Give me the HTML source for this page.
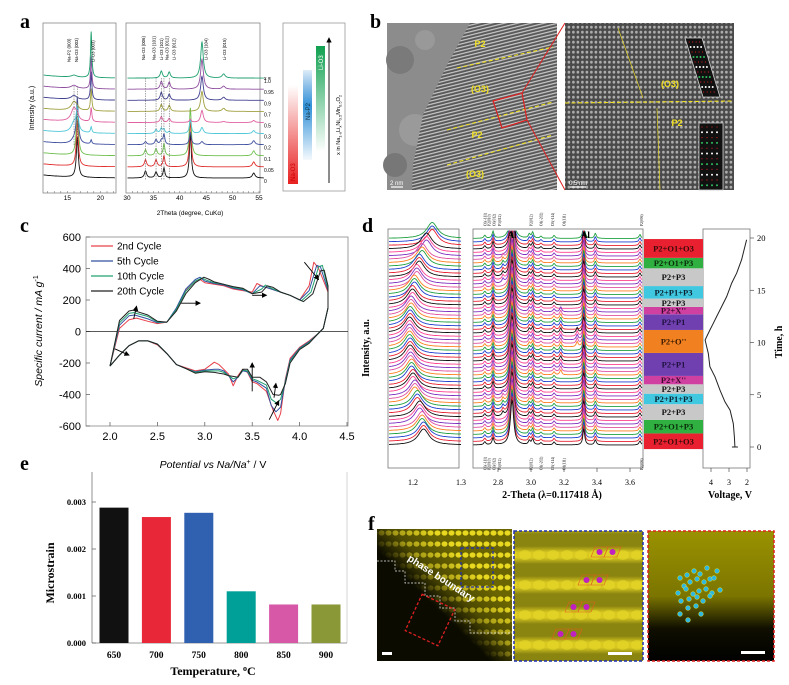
<!DOCTYPE html>
<html><head><meta charset="utf-8"><style>
html,body{margin:0;padding:0;background:#fff}
svg{display:block}
.sans{font-family:"Liberation Sans",sans-serif}
.serif{font-family:"Liberation Serif",serif}
</style></head><body>
<svg id="fig" width="789" height="685" viewBox="0 0 789 685" xmlns="http://www.w3.org/2000/svg">
<defs>
<pattern id="stripes" width="6" height="3.2" patternUnits="userSpaceOnUse" patternTransform="rotate(-14)">
<rect width="6" height="3.2" fill="#5a5a5a"/><rect y="0" width="6" height="1.2" fill="#c8c8c8"/>
</pattern>
<pattern id="grid" width="4.5" height="5" patternUnits="userSpaceOnUse">
<rect width="4.5" height="5" fill="#555"/><rect x="0.6" y="0.8" width="2.6" height="2.8" rx="1" fill="#c4c4c4"/>
</pattern>
<pattern id="ydots" width="7" height="11" patternUnits="userSpaceOnUse">
<rect width="7" height="11" fill="#6a6500"/><ellipse cx="3.5" cy="5" rx="3" ry="2.6" fill="#e8d820"/>
</pattern>
<linearGradient id="stripeGrad" x1="0" y1="0" x2="0" y2="1">
<stop offset="0" stop-color="#8a8410"/><stop offset="0.35" stop-color="#d8c820"/><stop offset="0.65" stop-color="#d8c820"/><stop offset="1" stop-color="#8a8410"/>
</linearGradient>
<pattern id="ystripe" width="14" height="30" patternUnits="userSpaceOnUse">
<rect width="14" height="30" fill="#8a8410"/><rect y="6" width="14" height="18" fill="url(#stripeGrad)"/><ellipse cx="7" cy="15" rx="6" ry="5" fill="#e8d828" opacity="0.6"/>
</pattern>
<linearGradient id="darkcorner" x1="0" y1="1" x2="1" y2="0">
<stop offset="0" stop-color="#0b0b00" stop-opacity="1"/><stop offset="0.42" stop-color="#0b0b00" stop-opacity="1"/><stop offset="0.55" stop-color="#0b0b00" stop-opacity="0.3"/><stop offset="0.7" stop-color="#0b0b00" stop-opacity="0"/>
</linearGradient>
<linearGradient id="darkbottom" x1="0" y1="0" x2="0" y2="1">
<stop offset="0" stop-color="#000" stop-opacity="0"/><stop offset="0.5" stop-color="#000" stop-opacity="0.2"/><stop offset="0.75" stop-color="#000" stop-opacity="0.9"/><stop offset="1" stop-color="#000" stop-opacity="1"/>
</linearGradient>
<linearGradient id="gRed" x1="0" y1="1" x2="0" y2="0"><stop offset="0" stop-color="#e82020"/><stop offset="1" stop-color="#e82020" stop-opacity="0"/></linearGradient>
<linearGradient id="gBlue" x1="0" y1="0" x2="0" y2="1"><stop offset="0" stop-color="#2080d0" stop-opacity="0.15"/><stop offset="0.4" stop-color="#3090d8"/><stop offset="1" stop-color="#3090d8" stop-opacity="0.05"/></linearGradient>
<linearGradient id="gGreen" x1="0" y1="0" x2="0" y2="1"><stop offset="0" stop-color="#10a050"/><stop offset="1" stop-color="#10a050" stop-opacity="0"/></linearGradient>
<marker id="arr" markerWidth="6" markerHeight="6" refX="5" refY="3" orient="auto"><path d="M0,0 L6,3 L0,6 z" fill="#000"/></marker>
</defs>

<!-- PANEL A -->
<g id="panelA">
<text x="20" y="28" class="serif" font-size="20" font-weight="bold">a</text>
<rect x="43" y="23" width="73" height="170" fill="none" stroke="#888" stroke-width="0.8"/>
<rect x="126" y="23" width="134" height="170" fill="none" stroke="#888" stroke-width="0.8"/>
<text transform="translate(34,108) rotate(-90)" text-anchor="middle" class="sans" font-size="7">Intensity (a.u.)</text>
<text x="190" y="215" text-anchor="middle" class="sans" font-size="6.5">2Theta (degree, CuKα)</text>
<g id="aTicks"></g>
<g id="aTraces"></g>
<g id="aLabels" class="sans" font-size="4.3"></g>
<rect x="283" y="23" width="62" height="168" fill="none" stroke="#999" stroke-width="0.8"/>
<rect x="288" y="85" width="10" height="99" fill="url(#gRed)"/>
<rect x="303" y="70" width="9" height="90" fill="url(#gBlue)"/>
<rect x="316" y="46" width="9" height="106" fill="url(#gGreen)"/>
<text transform="translate(295,181) rotate(-90)" class="sans" font-size="6" fill="#c00">Na-O3</text>
<text transform="translate(310,120) rotate(-90)" class="sans" font-size="6" fill="#134">Na-P2</text>
<text transform="translate(323,70) rotate(-90)" class="sans" font-size="6" fill="#fff">Li-O3</text>
<line x1="329" y1="183" x2="329" y2="38" stroke="#000" stroke-width="0.9" marker-end="url(#arr)"/>
<text transform="translate(340,155) rotate(-90)" class="sans" font-size="5.6">x in Na<tspan font-size="4" dy="1.5">1-x</tspan><tspan dy="-1.5">Li</tspan><tspan font-size="4" dy="1.5">x</tspan><tspan dy="-1.5">Ni</tspan><tspan font-size="4" dy="1.5">0.5</tspan><tspan dy="-1.5">Mn</tspan><tspan font-size="4" dy="1.5">0.5</tspan><tspan dy="-1.5">O</tspan><tspan font-size="4" dy="1.5">2</tspan></text>
</g>

<!-- PANEL B -->
<g id="panelB">
<text x="370" y="28" class="serif" font-size="20" font-weight="bold">b</text>
<rect x="387" y="23" width="170" height="167" fill="#8c8c8c"/>
<circle cx="400" cy="60" r="14" fill="#7a7a7a"/><circle cx="415" cy="130" r="16" fill="#9a9a9a"/><circle cx="395" cy="165" r="12" fill="#777"/><circle cx="425" cy="40" r="10" fill="#999"/>
<polygon points="470,23 557,23 557,190 412,190 413,165 423,115 447,65" fill="url(#stripes)"/>
<g stroke="#f0e020" stroke-width="1.1" stroke-dasharray="4,2.5" fill="none">
<line x1="457" y1="68" x2="553" y2="47"/>
<line x1="447" y1="130" x2="553" y2="102"/>
<line x1="447" y1="165" x2="553" y2="135"/>
</g>
<g class="sans" font-size="9" font-weight="bold" fill="#f0e020" text-anchor="middle">
<text x="480" y="47">P2</text>
<text x="480" y="92">(O3)</text>
<text x="477" y="138">P2</text>
<text x="475" y="177">(O3)</text>
</g>
<polygon points="493,101 522,93 527,120 502,128" fill="none" stroke="#e02020" stroke-width="1.2"/>
<line x1="522" y1="93" x2="565" y2="23" stroke="#e02020" stroke-width="1"/>
<line x1="527" y1="120" x2="565" y2="190" stroke="#e02020" stroke-width="1"/>
<line x1="391" y1="187" x2="403" y2="187" stroke="#fff" stroke-width="1.2"/>
<text x="390" y="185" class="sans" font-size="6" fill="#fff">2 nm</text>
<rect x="565" y="23" width="169" height="167" fill="url(#grid)"/>
<rect x="565" y="23" width="169" height="167" fill="#000" opacity="0.12"/>
<line x1="565" y1="103" x2="734" y2="101" stroke="#f0e020" stroke-width="1.1" stroke-dasharray="4,2.5"/>
<line x1="618" y1="28" x2="643" y2="98" stroke="#e0d020" stroke-width="0.7"/>
<line x1="657" y1="108" x2="660" y2="190" stroke="#e0d020" stroke-width="0.7"/>
<text x="670" y="87" class="sans" font-size="9" font-weight="bold" fill="#f0e020" text-anchor="middle">(O3)</text>
<text x="677" y="126" class="sans" font-size="9" font-weight="bold" fill="#f0e020" text-anchor="middle">P2</text>
<polygon points="685,38 702,38 720,97 703,97" fill="#111" stroke="#ccc" stroke-width="0.8"/>
<rect x="699" y="123" width="24" height="67" fill="#111" stroke="#ccc" stroke-width="0.8"/>
<g id="bInsets"></g>
<line x1="570" y1="187" x2="586" y2="187" stroke="#fff" stroke-width="1.2"/>
<text x="569" y="185" class="sans" font-size="6" fill="#fff">0.5 nm</text>
</g>

<!-- PANEL C -->
<g id="panelC">
<text x="20" y="232" class="serif" font-size="20" font-weight="bold">c</text>
<rect x="86" y="237" width="262" height="189" fill="none" stroke="#888" stroke-width="0.8"/>
<g id="cAxes" class="sans" font-size="11"></g>
<g id="cLines"></g>
<text transform="translate(42,331) rotate(-90)" text-anchor="middle" class="sans" font-size="10.5" font-style="italic">Specific current / mA g<tspan font-size="7" dy="-4" font-style="normal">-1</tspan></text>
<text x="213" y="468" text-anchor="middle" class="sans" font-size="10.5" font-style="italic">Potential vs Na/Na<tspan font-size="7" dy="-4" font-style="normal">+</tspan><tspan dy="4" font-style="normal"> / V</tspan></text>
<g id="cLegend" class="sans" font-size="10"></g>
</g>

<!-- PANEL D -->
<g id="panelD">
<text x="362" y="232" class="serif" font-size="20" font-weight="bold">d</text>
<rect x="388" y="229" width="71" height="239" fill="none" stroke="#777" stroke-width="0.8"/>
<rect x="473" y="229" width="170" height="239" fill="none" stroke="#777" stroke-width="0.8"/>
<rect x="703" y="229" width="47" height="239" fill="none" stroke="#777" stroke-width="0.8"/>
<g id="dTraces"></g>
<g id="dAxes" class="serif" font-size="8"></g>
<g id="dPhases" class="serif" font-size="8.5" font-weight="bold"></g>
<g id="dVolt"></g>
<text transform="translate(369,348) rotate(-90)" text-anchor="middle" class="serif" font-size="10" font-weight="bold">Intensity, a.u.</text>
<text x="552" y="498" text-anchor="middle" class="serif" font-size="10" font-weight="bold">2-Theta (λ=0.117418 Å)</text>
<text x="730" y="498" text-anchor="middle" class="serif" font-size="10" font-weight="bold">Voltage, V</text>
<text transform="translate(782,342) rotate(-90)" text-anchor="middle" class="serif" font-size="10" font-weight="bold">Time, h</text>
</g>

<!-- PANEL E -->
<g id="panelE">
<text x="20" y="470" class="serif" font-size="20" font-weight="bold">e</text>
<line x1="92" y1="472" x2="92" y2="643" stroke="#777" stroke-width="0.8"/>
<line x1="347" y1="472" x2="347" y2="643" stroke="#ccc" stroke-width="0.8"/>
<line x1="92" y1="643" x2="347" y2="643" stroke="#777" stroke-width="0.8"/>
<g id="eBars"></g>
<g id="eAxes" class="serif" font-size="8.5" font-weight="bold"></g>
<text transform="translate(54,573) rotate(-90)" text-anchor="middle" class="serif" font-size="12" font-weight="bold">Microstrain</text>
<text x="213" y="675" text-anchor="middle" class="serif" font-size="12" font-weight="bold">Temperature, <tspan font-size="8" dy="-4">o</tspan><tspan dy="4">C</tspan></text>
</g>

<!-- PANEL F -->
<g id="panelF">
<text x="368" y="530" class="serif" font-size="20" font-weight="bold">f</text>
<rect x="377" y="529" width="135" height="132" fill="url(#ydots)"/>
<rect x="377" y="529" width="135" height="132" fill="url(#darkcorner)"/>
<polyline points="377,561 395,561 395,571 405,571 405,583 425,583 425,596 440,596 440,608 455,608 455,621 470,621 470,633 512,633" fill="none" stroke="#eee" stroke-width="0.7" stroke-dasharray="2,1.5"/>
<text transform="translate(407,560) rotate(33)" class="sans" font-size="10" font-weight="bold" fill="#fff">phase boundary</text>
<rect x="461" y="548" width="32" height="39" fill="none" stroke="#2030b0" stroke-width="1.3" stroke-dasharray="3,2"/>
<rect x="412" y="600" width="36" height="40" transform="rotate(25 430 620)" fill="none" stroke="#e02020" stroke-width="1.3" stroke-dasharray="3,2"/>
<rect x="382" y="652" width="10" height="3" fill="#fff"/>
<rect x="514" y="531" width="129" height="130" fill="url(#ystripe)"/>
<rect x="514" y="531" width="129" height="130" fill="none" stroke="#2030b0" stroke-width="1.5" stroke-dasharray="3,2"/>
<g id="fMid"></g>
<rect x="608" y="652" width="24" height="3" fill="#fff"/>
<rect x="648" y="531" width="126" height="130" fill="#9a9200"/>
<rect x="648" y="531" width="126" height="130" fill="url(#darkbottom)"/>
<rect x="648" y="531" width="126" height="130" fill="none" stroke="#e02020" stroke-width="1.5" stroke-dasharray="3,2"/>
<g id="fRight"></g>
<rect x="741" y="651" width="24" height="3" fill="#fff"/>
</g>
</svg>

<script>
// ===================== DATA =====================
var xrdComps = ["0","0.05","0.1","0.2","0.3","0.5","0.7","0.9","0.95","1.0"];
var xrdColors = ["#111","#e03030","#70c050","#4050a0","#50c8d8","#e060a0","#a0a040","#404090","#9050a0","#20a070"];
var leftPeakPos = [16.0, 16.5, 18.6];
var leftPeakW = [0.5, 0.18, 0.12];
var leftPeakH = [
 [0,40,0],[0,46,0],[0,52,0],[4,44,4],[10,22,6],[14,4,14],[9,2,22],[4,0,28],[3,0,32],[2,0,46]
];
var rightPeakPos = [33.5,35.5,36.5,37.0,38.0,42.0,44.2,48.3,54.0];
var rightPeakW = [0.25,0.25,0.25,0.2,0.25,0.22,0.3,0.35,0.3];
var rightPeakH = [
 [7,6,0,10,0,44,0,0,5],[7,7,0,11,0,46,0,0,5],[6,7,0,12,0,48,0,0,5],[3,5,4,10,0,12,3,0,4],
 [0,4,5,4,2,14,6,0,3],[0,0,6,0,4,3,12,1,2],[0,0,7,0,6,0,20,3,0],[0,0,8,0,6,0,24,3,0],
 [0,0,8,0,7,0,30,3,0],[0,0,7,0,6,0,36,4,0]
];
var aTickL = [15,20];
var aTickR = [30,35,40,45,50,55];

var cvNames = ["2nd Cycle","5th Cycle","10th Cycle","20th Cycle"];
var cvColors = ["#e8404a","#3050a0","#20a070","#222"];
var cv2V = [2.0,2.1,2.2,2.28,2.4,2.5,2.6,2.7,2.8,2.9,2.95,3.0,3.1,3.2,3.3,3.4,3.5,3.55,3.6,3.7,3.8,3.9,4.0,4.1,4.15,4.2,4.3,4.3,4.25,4.2,4.1,4.0,3.9,3.85,3.8,3.77,3.72,3.65,3.55,3.5,3.45,3.4,3.35,3.3,3.25,3.2,3.15,3.1,3.0,2.9,2.8,2.7,2.6,2.5,2.4,2.3,2.2,2.1,2.0];
var cv2I = [-220,20,75,85,65,50,60,140,260,320,330,310,300,290,270,260,250,305,290,270,250,230,200,290,440,400,250,150,20,-10,-60,-100,-170,-300,-520,-565,-500,-380,-330,-320,-260,-240,-280,-345,-270,-240,-210,-195,-240,-250,-230,-210,-140,-85,-60,-60,-90,-150,-220];
var cv5V = [2.0,2.1,2.2,2.26,2.4,2.5,2.6,2.7,2.8,2.9,2.95,3.0,3.1,3.2,3.3,3.4,3.5,3.58,3.62,3.7,3.8,3.9,4.0,4.1,4.18,4.22,4.3,4.3,4.25,4.2,4.1,4.0,3.9,3.85,3.8,3.75,3.7,3.65,3.55,3.5,3.45,3.4,3.35,3.3,3.25,3.2,3.15,3.1,3.0,2.9,2.8,2.7,2.6,2.5,2.4,2.3,2.2,2.1,2.0];
var cv5I = [-220,40,100,105,80,55,60,150,270,330,345,320,305,295,275,265,240,290,285,270,250,230,200,260,420,410,260,150,20,-10,-65,-105,-180,-310,-480,-510,-470,-360,-320,-310,-255,-250,-290,-320,-280,-250,-240,-240,-245,-255,-235,-210,-140,-80,-60,-60,-90,-150,-220];
var cv10V = [2.0,2.1,2.2,2.25,2.4,2.5,2.6,2.7,2.8,2.9,2.97,3.02,3.1,3.2,3.3,3.4,3.5,3.6,3.64,3.7,3.8,3.9,4.02,4.12,4.2,4.24,4.3,4.3,4.25,4.2,4.1,4.0,3.9,3.85,3.8,3.76,3.7,3.65,3.55,3.5,3.45,3.4,3.35,3.3,3.25,3.2,3.15,3.1,3.0,2.9,2.8,2.7,2.6,2.5,2.4,2.3,2.2,2.1,2.0];
var cv10I = [-220,55,115,120,95,60,60,140,255,320,340,325,310,300,280,270,240,270,295,275,250,230,195,250,410,420,270,150,20,-10,-70,-110,-190,-320,-430,-455,-430,-340,-310,-300,-250,-245,-290,-300,-280,-260,-250,-250,-250,-260,-235,-210,-140,-80,-60,-60,-90,-150,-220];
var cv20V = [2.0,2.1,2.2,2.24,2.4,2.5,2.6,2.7,2.8,2.9,2.99,3.05,3.1,3.2,3.3,3.4,3.5,3.6,3.66,3.72,3.8,3.9,4.04,4.14,4.22,4.26,4.3,4.3,4.25,4.2,4.1,4.0,3.9,3.85,3.8,3.78,3.72,3.65,3.58,3.5,3.45,3.4,3.35,3.3,3.25,3.2,3.15,3.1,3.0,2.9,2.8,2.7,2.6,2.5,2.4,2.3,2.2,2.1,2.0];
var cv20I = [-220,70,130,135,105,65,60,130,240,310,345,330,315,300,285,275,240,250,290,280,250,230,190,240,385,390,290,150,20,-10,-75,-115,-200,-330,-400,-405,-400,-320,-290,-290,-240,-240,-290,-285,-280,-270,-265,-260,-255,-265,-235,-210,-140,-80,-60,-60,-90,-150,-220];
var cTickX = [2.0,2.5,3.0,3.5,4.0,4.5];
var cTickY = [600,400,200,0,-200,-400,-600];

var phaseLabels = ["P2+O1+O3","P2+O1+P3","P2+P3","P2+P1+P3","P2+P3","P2+X''","P2+P1","P2+O''","P2+P1","P2+X''","P2+P3","P2+P1+P3","P2+P3","P2+O1+P3","P2+O1+O3"];
var phaseStart = [-0.2,1.3,2.6,4.1,5.1,6.0,6.8,9.0,11.2,12.7,13.4,14.2,15.4,17.1,18.1];
var phaseEnd = [1.3,2.6,4.1,5.1,6.0,6.8,9.0,11.2,12.7,13.4,14.2,15.4,17.1,18.1,19.9];
var phaseColors = ["#e82030","#30b040","#c8c8c8","#40c8e0","#c8c8c8","#d040a0","#7040b0","#f08020","#7040b0","#d040a0","#c8c8c8","#40c8e0","#c8c8c8","#30b040","#e82030"];
var phaseText = ["#3a0a0a","#0a2a0a","#111","#0a2030","#111","#3a0a2a","#201040","#3a1a00","#201040","#3a0a2a","#111","#0a2030","#111","#0a2a0a","#3a0a0a"];
var voltTime = [0,0.96,2.24,3.52,4.32,5.44,6.72,7.68,8.96,9.6,10.24,10.56,11.2,11.84,12.48,13.12,14.4,15.68,16.64,17.92,19.84];
var voltVal = [2.67,2.7,2.76,2.94,3.22,3.5,3.78,4.06,4.15,4.24,4.33,4.24,4.06,3.87,3.69,3.5,3.13,2.85,2.57,2.3,2.02];
var dLowPeak = [1.222,1.219,1.214,1.209,1.204,1.200,1.197,1.195,1.194,1.193,1.193,1.194,1.196,1.199,1.203,1.208,1.213,1.219,1.228,1.240];
var dPeakPos = [2.72,2.77,2.83,2.885,2.99,3.01,3.06,3.14,3.18,3.28,3.32,3.39,3.66];
var dPeakH = [3,7,4,45,4,6,2,3,5,5,16,5,4];
var dTraceColors = ["#111","#e82030","#2040d0","#20a040","#ff8020","#e050a0","#8030c0","#ff4090"];
var dTickL = [1.2,1.3];
var dTickM = [2.8,3.0,3.2,3.4,3.6];
var dTickT = [0,5,10,15,20];
var dTickV = [4,3,2];

var eTemps = ["650","700","750","800","850","900"];
var eStrain = [0.00288,0.00268,0.00277,0.0011,0.00082,0.00082];
var eColors = ["#111","#e82838","#3060b0","#00a098","#d858a8","#8a9838"];
var eTicks = [0,0.001,0.002,0.003];

// ===================== HELPERS =====================
var NS = "http://www.w3.org/2000/svg";
function mk(tag, attrs, parent){var e=document.createElementNS(NS,tag);for(var k in attrs)e.setAttribute(k,attrs[k]);parent.appendChild(e);return e;}
function byId(id){return document.getElementById(id);}
function lor(d,p,w,h){var u=(d-p)/w;return h/(1+u*u);}

// ===================== PANEL A =====================
var xL = function(d){return 43+(d-11.3)*6.6;};
var xR = function(d){return 127+(d-30)*5.28;};
var baseA = function(k){return 178-k*11.1;};
(function(){
 var g=byId("aTraces");
 for(var k=0;k<xrdComps.length;k++){
  var pts=[];
  for(var d=11.4; d<=22.2; d+=0.04){
   var y=baseA(k)-3*Math.exp(-(d-11.4)/4);
   for(var j=0;j<leftPeakPos.length;j++) y-=lor(d,leftPeakPos[j],leftPeakW[j],leftPeakH[k][j]);
   pts.push(xL(d).toFixed(1)+","+y.toFixed(1));
  }
  var p=mk("polyline",{points:pts.join(" "),fill:"none",stroke:xrdColors[k],"stroke-width":0.9},g);
  
  
  pts=[];
  for(var d2=30.1; d2<=55.9; d2+=0.05){
   var y2=baseA(k);
   for(var j2=0;j2<rightPeakPos.length;j2++) y2-=lor(d2,rightPeakPos[j2],rightPeakW[j2],rightPeakH[k][j2]);
   pts.push(xR(d2).toFixed(1)+","+y2.toFixed(1));
  }
  var p2=mk("polyline",{points:pts.join(" "),fill:"none",stroke:xrdColors[k],"stroke-width":0.9},g);
  
  
  var t=mk("text",{x:264,y:baseA(k)+5,"font-size":5,"font-family":"Liberation Sans, sans-serif"},byId("aLabels"));
  t.textContent=xrdComps[k];
  
  
 }
 var tx=mk("text",{x:264,y:80,"font-size":5,"font-family":"Liberation Sans, sans-serif"},byId("aLabels"));
 tx.textContent="x =";
 
 
 var tg=byId("aTicks");
 aTickL.forEach(function(v){
  var t=mk("text",{x:xL(v),y:200,"text-anchor":"middle","font-size":6.5,"font-family":"Liberation Sans, sans-serif"},tg);t.textContent=v;
  
  
 });
 aTickR.forEach(function(v){
  var t=mk("text",{x:xR(v),y:200,"text-anchor":"middle","font-size":6.5,"font-family":"Liberation Sans, sans-serif"},tg);t.textContent=v;
  
  
 });
 for(var d=12; d<=22; d++){mk("line",{x1:xL(d),y1:193,x2:xL(d),y2:191,stroke:"#666","stroke-width":0.5},tg);}
 for(var d3=31; d3<=55; d3++){mk("line",{x1:xR(d3),y1:193,x2:xR(d3),y2:191,stroke:"#666","stroke-width":0.5},tg);}
 var lbls=[[xL(16.0)-5,"Na-P2 (003)",16.0,true],[xL(16.5)-1,"Na-O3 (003)",16.5,true],[xL(18.6)+2,"Li-O3 (003)",18.6,false],
  [xR(33.5)-2,"Na-O3 (006)",33.5,true],[xR(35.5)-2,"Na-O3 (101)",35.5,true],[xR(36.5),"Li-O3 (101)",36.5,true],[xR(37.0)+3,"Na-O3 (012)",37.0,true],[xR(38.0)+5,"Li-O3 (012)",38.0,true],[xR(44.2)+4,"Li-O3 (104)",44.2,false],[xR(48.3)+1,"Li-O3 (015)",48.3,false]];
 lbls.forEach(function(l,i){
  var yb = (i<3)?62:60;
  var t=mk("text",{transform:"translate("+(l[0]+1.5)+","+yb+") rotate(-90)","font-size":4.3,"font-family":"Liberation Sans, sans-serif"},byId("aLabels"));
  t.textContent=l[1];
  
  
  if(l[3]){
   var xx=(i<3)?xL(l[2]):xR(l[2]);
   mk("line",{x1:xx,y1:(i<3)?86:78,x2:xx,y2:(i<3)?145:180,stroke:"#555","stroke-width":0.5,"stroke-dasharray":"1.5,1"},byId("aLabels"));
  }
 });
})();

// ===================== PANEL B insets =====================
(function(){
 var g=byId("bInsets");
 var rowsC=["#c02020","#fff","#c02020","#30c060","#c02020","#fff","#c02020","#30c060","#c02020","#fff","#c02020"];
 for(var r=0;r<11;r++){
  var yy=42+r*5;
  for(var c=0;c<4;c++){
   var xx=688+c*3.5+(yy-38)*0.29;
   mk("circle",{cx:xx,cy:yy,r:rowsC[r]=="#c02020"?0.6:1,fill:rowsC[r]},g);
  }
 }
 var rows2=["#c02020","#fff","#c02020","#30c060","#c02020","#fff","#c02020","#30c060","#c02020","#fff","#c02020","#30c060"];
 for(var r2=0;r2<12;r2++){
  for(var c2=0;c2<4;c2++){
   mk("circle",{cx:702+c2*5,cy:127+r2*5.3,r:rows2[r2]=="#c02020"?0.6:1,fill:rows2[r2]},g);
  }
 }
})();

// ===================== PANEL C =====================
var cx = function(v){return 110+(v-2.0)*(347-110)/2.5;};
var cy = function(i){return 331.5-i*(189/1200);};
(function(){
 var ax=byId("cAxes");
 cTickX.forEach(function(v){
  mk("line",{x1:cx(v),y1:426,x2:cx(v),y2:422,stroke:"#555","stroke-width":0.7},ax);
  var t=mk("text",{x:cx(v),y:440,"text-anchor":"middle"},ax);t.textContent=v.toFixed(1);
  
  
 });
 cTickY.forEach(function(v){
  mk("line",{x1:86,y1:cy(v),x2:90,y2:cy(v),stroke:"#555","stroke-width":0.7},ax);
  var t=mk("text",{x:81,y:cy(v)+4,"text-anchor":"end"},ax);t.textContent=v;
  
  
 });
 mk("line",{x1:86,y1:cy(0),x2:348,y2:cy(0),stroke:"#222","stroke-width":0.8},ax);
 var sets=[[cv2V,cv2I],[cv5V,cv5I],[cv10V,cv10I],[cv20V,cv20I]];
 [0,1,2,3].forEach(function(s){
  var pts=sets[s][0].map(function(v,i){return cx(v).toFixed(1)+","+cy(sets[s][1][i]).toFixed(1);});
  var pl=mk("polyline",{points:pts.join(" "),fill:"none",stroke:cvColors[s],"stroke-width":1,"stroke-linejoin":"round"},byId("cLines"));
  
  
 });
 var arrows=[[2.25,80,2.28,160],[2.75,180,2.95,180],[3.5,230,3.65,230],[4.05,440,4.2,330],[2.05,-110,2.2,-150],[3.5,-380,3.5,-200],[3.73,-420,3.75,-330],[3.68,-560,3.78,-440]];
 arrows.forEach(function(a){
  mk("line",{x1:cx(a[0]),y1:cy(a[1]),x2:cx(a[2]),y2:cy(a[3]),stroke:"#000","stroke-width":0.9,"marker-end":"url(#arr)"},byId("cLines"));
 });
 var lg=byId("cLegend");
 cvNames.forEach(function(n,i){
  var yy=246+i*15;
  mk("line",{x1:91,y1:yy,x2:113,y2:yy,stroke:cvColors[i],"stroke-width":1.2},lg);
  var t=mk("text",{x:117,y:yy+3.5},lg);t.textContent=n;
  
  
 });
})();

// ===================== PANEL D =====================
var dxL = function(v){return 413+(v-1.2)*480;};
var dxM = function(v){return 498+(v-2.8)*165;};
var dyT = function(t){return 447-t*10.45;};
var dxV = function(v){return 711+(4-v)*18;};
(function(){
 var g=byId("dTraces");
 var n=dLowPeak.length*3;
 for(var i=n-1;i>=0;i--){
  var base=445-i*3.5;
  var col=dTraceColors[i%dTraceColors.length];
  var pk=dLowPeak[Math.floor(i/3)];
  var pts=[];
  for(var v=1.15; v<=1.30; v+=0.002){
   var y=base-lor(v,pk,0.014,16);
   pts.push(dxL(v).toFixed(1)+","+y.toFixed(1));
  }
  var pl=mk("polyline",{points:pts.join(" "),fill:"none",stroke:col,"stroke-width":0.9},g);
  
  
  var t=i/3;
  pts=[];
  for(var v2=2.65; v2<=3.675; v2+=0.003){
   var y2=base;
   for(var j=0;j<dPeakPos.length;j++){
    var h=dPeakH[j];
    if(dPeakPos[j]==3.18 && !(t>6.5&&t<13)) h=0;
    if(dPeakPos[j]==3.28 && !(t>9&&t<11)) h=0;
    if(dPeakPos[j]==2.83 && !((t>2.6&&t<5)||(t>15&&t<18))) h=0;
    y2-=lor(v2,dPeakPos[j],dPeakPos[j]==2.885?0.012:0.007,h);
   }
   y2=Math.max(y2,231);
   pts.push(dxM(v2).toFixed(1)+","+y2.toFixed(1));
  }
  var pl2=mk("polyline",{points:pts.join(" "),fill:"none",stroke:col,"stroke-width":0.9},g);
  
  
 }
 var ax=byId("dAxes");
 dTickL.forEach(function(v){var t=mk("text",{x:dxL(v),y:485,"text-anchor":"middle"},ax);t.textContent=v.toFixed(1);
  
  });
 dTickM.forEach(function(v){var t=mk("text",{x:dxM(v),y:485,"text-anchor":"middle"},ax);t.textContent=v.toFixed(1);
  
  
  mk("line",{x1:dxM(v),y1:468,x2:dxM(v),y2:472,stroke:"#333","stroke-width":0.6},ax);});
 dTickT.forEach(function(v){mk("line",{x1:750,y1:dyT(v),x2:754,y2:dyT(v),stroke:"#333","stroke-width":0.6},ax);
  var t=mk("text",{x:757,y:dyT(v)+3,"font-size":8.5},ax);t.textContent=v;
  
  });
 dTickV.forEach(function(v){mk("line",{x1:dxV(v),y1:468,x2:dxV(v),y2:472,stroke:"#333","stroke-width":0.6},ax);
  var t=mk("text",{x:dxV(v),y:485,"text-anchor":"middle"},ax);t.textContent=v;
  
  });
 var al1=mk("text",{x:dxM(2.885),y:238,"text-anchor":"middle","font-size":9,"font-weight":"bold"},ax);al1.textContent="Al";
 
 
 var al2=mk("text",{x:dxM(3.33),y:238,"text-anchor":"middle","font-size":9,"font-weight":"bold"},ax);al2.textContent="Al";
 
 
 var small=[[2.72,"O3(-111)"],[2.745,"P2(010)"],[2.775,"O3(012)"],[2.81,"P3(012)"],[3.0,"P2(012)"],[3.06,"O1(-202)"],[3.13,"O3(-114)"],[3.2,"O1(111)"],[3.67,"P2(006)"]];
 small.forEach(function(s){
  var t=mk("text",{transform:"translate("+(dxM(s[0])+1.5)+",226) rotate(-90)","font-size":3.6},ax);t.textContent=s[1];
  
  
  var t2=mk("text",{transform:"translate("+(dxM(s[0])+1.5)+",470) rotate(-90)","font-size":3.6},ax);t2.textContent=s[1];
  
  
 });
 var ph=byId("dPhases");
 phaseLabels.forEach(function(l,i){
  var y1=dyT(phaseEnd[i]), y2=dyT(phaseStart[i]);
  var r=mk("rect",{x:644,y:y1,width:59,height:y2-y1,fill:phaseColors[i]},ph);
  
  
  var t=mk("text",{x:673.5,y:(y1+y2)/2+3,"text-anchor":"middle",fill:phaseText[i]},ph);t.textContent=l;
  
  
 });
 var pts2=voltTime.map(function(t,i){return dxV(voltVal[i]).toFixed(1)+","+dyT(t).toFixed(1);});
 var vl=mk("polyline",{points:pts2.join(" "),fill:"none",stroke:"#222","stroke-width":1},byId("dVolt"));
 
 
 mk("line",{x1:dxV(voltVal[0])-3,y1:dyT(0),x2:dxV(voltVal[0])+3,y2:dyT(0),stroke:"#222","stroke-width":1},byId("dVolt"));
})();

// ===================== PANEL E =====================
var eX = function(i){return 114+i*42.4;};
var eY = function(v){return 643-v*47000;};
(function(){
 var g=byId("eBars");
 eStrain.forEach(function(v,i){
  var b=mk("rect",{x:eX(i)-14.5,y:eY(v),width:29,height:643-eY(v),fill:eColors[i]},g);
  
  
 });
 var ax=byId("eAxes");
 eTicks.forEach(function(v){
  mk("line",{x1:92,y1:eY(v),x2:96,y2:eY(v),stroke:"#555","stroke-width":0.7},ax);
  var t=mk("text",{x:86,y:eY(v)+3,"text-anchor":"end"},ax);t.textContent=v.toFixed(3);
  
  
 });
 eTemps.forEach(function(l,i){
  var t=mk("text",{x:eX(i),y:658,"text-anchor":"middle","font-size":9.5},ax);t.textContent=l;
  
  
 });
})();

// ===================== PANEL F decorations =====================
(function(){
 var g=byId("fMid");
 var cells=[[595,552],[582,580],[569,607],[556,634]];
 cells.forEach(function(c){
  for(var k=0;k<2;k++){
   var x0=c[0]+k*13;
   mk("polygon",{points:(x0)+","+(c[1]-5)+" "+(x0+13)+","+(c[1]-5)+" "+(x0+9)+","+(c[1]+5)+" "+(x0-4)+","+(c[1]+5),fill:"none",stroke:"#e06020","stroke-width":0.6},g);
   mk("circle",{cx:x0+4.5,cy:c[1],r:3,fill:"#c020c0"},g);
  }
 });
 var r=byId("fRight");
 var dots=[[680,578],[687,575],[694,571],[700,574],[707,568],[684,586],[690,582],[697,579],[704,582],[710,579],[678,593],[686,589],[693,594],[699,591],[706,589],[712,593],[720,590],[681,601],[689,599],[697,597],[703,601],[710,596],[688,608],[696,606],[701,614],[680,614],[688,620],[714,578],[717,571]];
 dots.forEach(function(d){
  var c=mk("circle",{cx:d[0],cy:d[1],r:2.4,fill:"#30b8e0",stroke:"#e8f040","stroke-width":0.4},r);
  
  
 });
})();
</script>
</body></html>
